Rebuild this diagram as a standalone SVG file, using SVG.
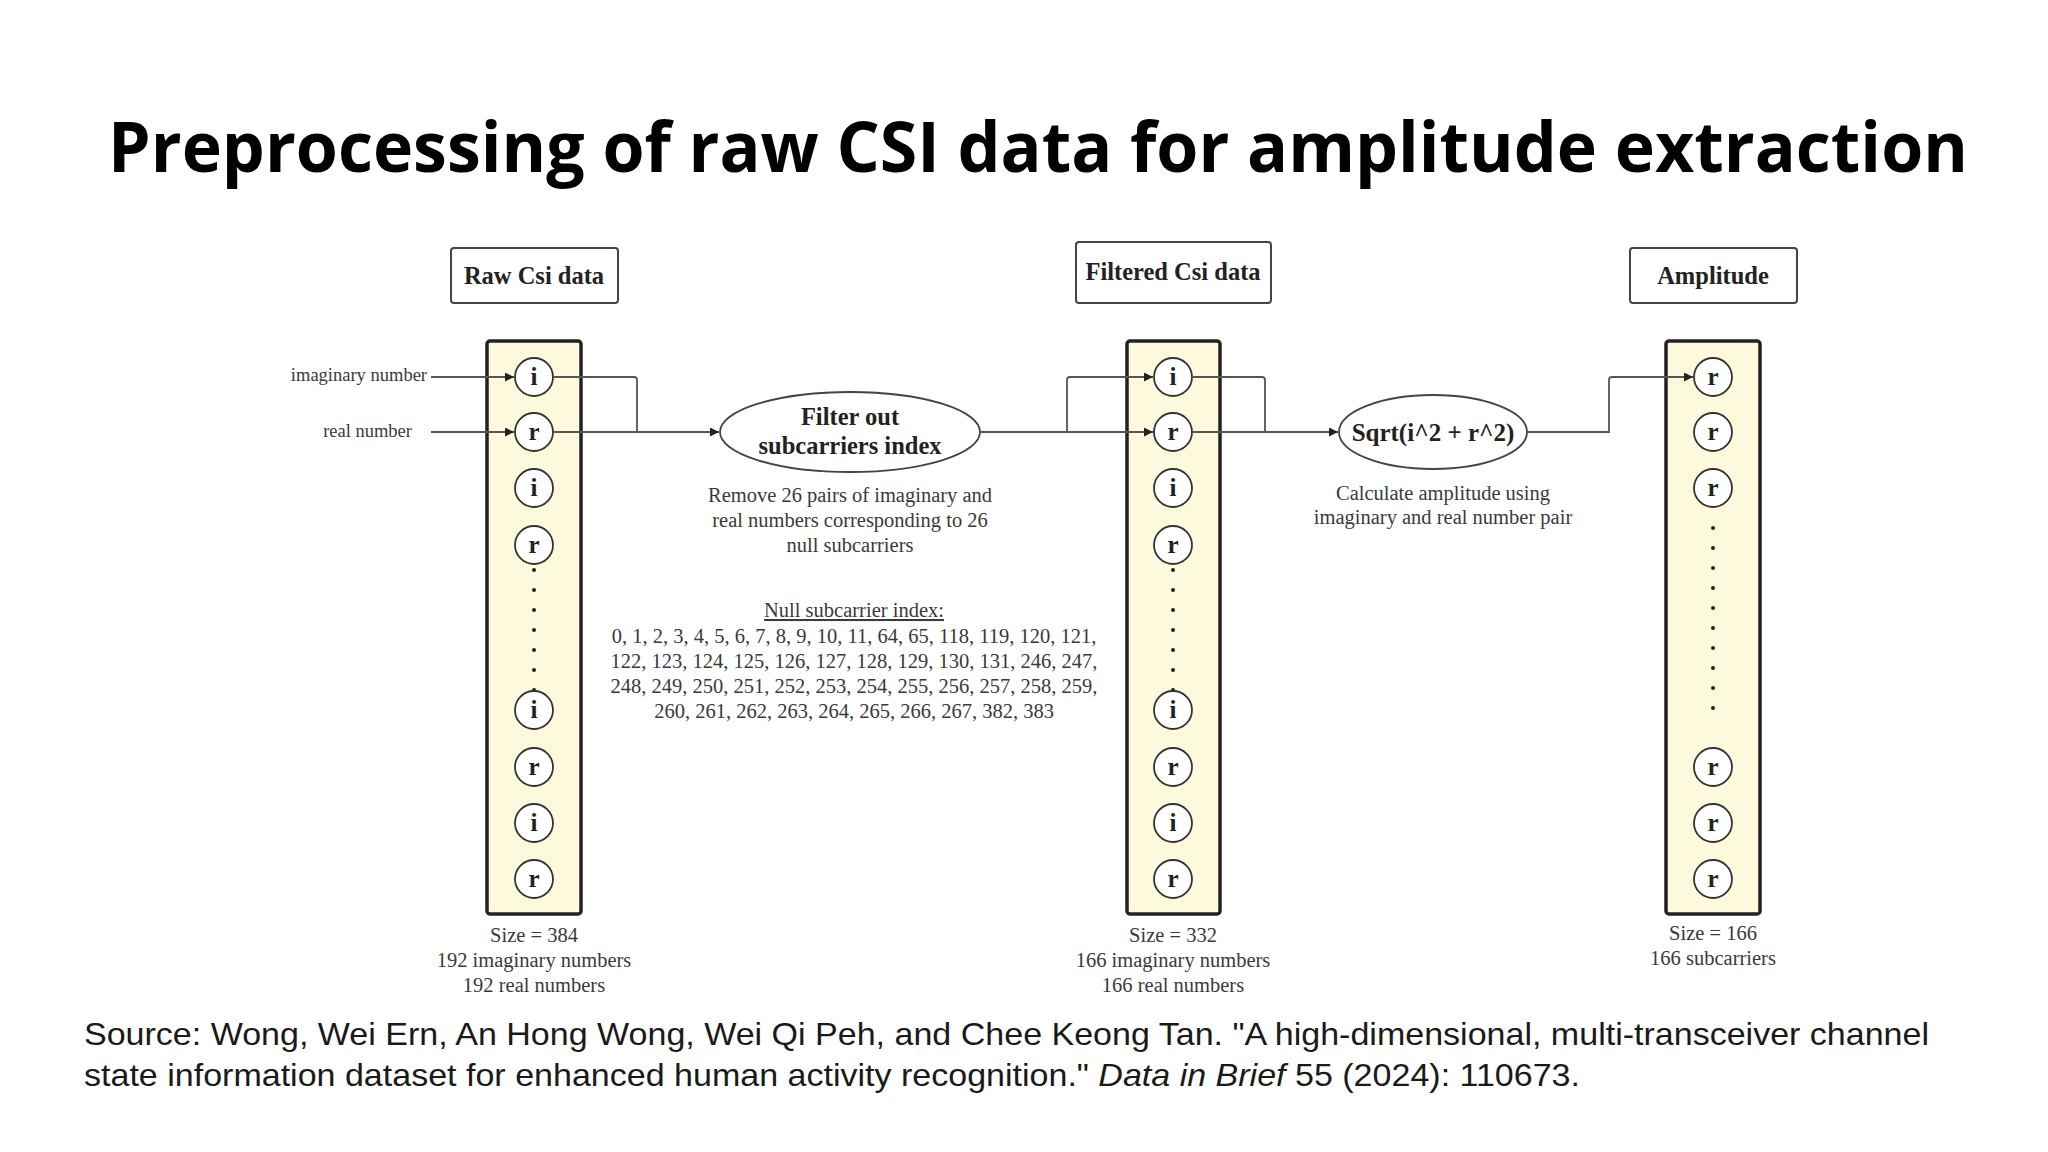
<svg xmlns="http://www.w3.org/2000/svg" width="2048" height="1152" viewBox="0 0 2048 1152">
<style>
.t{font-family:"Liberation Serif",serif;fill:#3a3a3a}
.b{font-family:"Liberation Serif",serif;font-weight:bold;fill:#222}
.lbl{fill:#fff;stroke:#444;stroke-width:2}
.col{fill:#fcf9dc;stroke:#222;stroke-width:3.5}
.c{fill:#fff;stroke:#333;stroke-width:1.8}
.ct{font-family:"Liberation Serif",serif;font-weight:bold;font-size:25px;fill:#222;text-anchor:middle}
.ln{fill:none;stroke:#555;stroke-width:1.8}
.dot{fill:#222}
</style>
<defs>
<marker id="ah" viewBox="0 0 10 10" refX="10" refY="5" markerWidth="9" markerHeight="9" markerUnits="userSpaceOnUse" orient="auto"><path d="M0,0L10,5L0,10z" fill="#222"/></marker>
<g id="ci"><circle class="c" r="19"/><text class="ct" y="8">i</text></g>
<g id="cr"><circle class="c" r="19"/><text class="ct" y="8">r</text></g>
</defs>
<rect width="2048" height="1152" fill="#fff"/>
<text x="1038" y="172" font-family="'Open Sans','Liberation Sans',sans-serif" font-weight="bold" font-size="70" text-anchor="middle" textLength="1860" lengthAdjust="spacingAndGlyphs" fill="#000">Preprocessing of raw CSI data for amplitude extraction</text>

<g id="raw">
<rect class="lbl" x="451" y="248" width="167" height="55" rx="3"/>
<text class="b" x="534" y="284" font-size="24.5" text-anchor="middle">Raw Csi data</text>
<rect class="col" x="487" y="341" width="94" height="573" rx="3"/>
<use href="#ci" x="534" y="377"/><use href="#cr" x="534" y="432"/><use href="#ci" x="534" y="488"/><use href="#cr" x="534" y="545"/>
<g class="dot"><circle cx="534" cy="570" r="2"/><circle cx="534" cy="590" r="2"/><circle cx="534" cy="610" r="2"/><circle cx="534" cy="630" r="2"/><circle cx="534" cy="650" r="2"/><circle cx="534" cy="670" r="2"/><circle cx="534" cy="690" r="2"/></g>
<use href="#ci" x="534" y="710"/><use href="#cr" x="534" y="767"/><use href="#ci" x="534" y="823"/><use href="#cr" x="534" y="879"/>
<text class="t" font-size="20.5" text-anchor="middle"><tspan x="534" y="942">Size = 384</tspan><tspan x="534" y="967">192 imaginary numbers</tspan><tspan x="534" y="992">192 real numbers</tspan></text>
</g>

<g id="filtered">
<rect class="lbl" x="1076" y="242" width="195" height="61" rx="3"/>
<text class="b" x="1173" y="280" font-size="24.5" text-anchor="middle">Filtered Csi data</text>
<rect class="col" x="1127" y="341" width="93" height="573" rx="3"/>
<use href="#ci" x="1173" y="377"/><use href="#cr" x="1173" y="432"/><use href="#ci" x="1173" y="488"/><use href="#cr" x="1173" y="545"/>
<g class="dot"><circle cx="1173" cy="570" r="2"/><circle cx="1173" cy="590" r="2"/><circle cx="1173" cy="610" r="2"/><circle cx="1173" cy="630" r="2"/><circle cx="1173" cy="650" r="2"/><circle cx="1173" cy="670" r="2"/><circle cx="1173" cy="690" r="2"/></g>
<use href="#ci" x="1173" y="710"/><use href="#cr" x="1173" y="767"/><use href="#ci" x="1173" y="823"/><use href="#cr" x="1173" y="879"/>
<text class="t" font-size="20.5" text-anchor="middle"><tspan x="1173" y="942">Size = 332</tspan><tspan x="1173" y="967">166 imaginary numbers</tspan><tspan x="1173" y="992">166 real numbers</tspan></text>
</g>

<g id="amplitude">
<rect class="lbl" x="1630" y="248" width="167" height="55" rx="3"/>
<text class="b" x="1713" y="284" font-size="24.5" text-anchor="middle">Amplitude</text>
<rect class="col" x="1666" y="341" width="94" height="573" rx="3"/>
<use href="#cr" x="1713" y="377"/><use href="#cr" x="1713" y="432"/><use href="#cr" x="1713" y="488"/>
<g class="dot"><circle cx="1713" cy="528" r="2"/><circle cx="1713" cy="548" r="2"/><circle cx="1713" cy="568" r="2"/><circle cx="1713" cy="588" r="2"/><circle cx="1713" cy="608" r="2"/><circle cx="1713" cy="628" r="2"/><circle cx="1713" cy="648" r="2"/><circle cx="1713" cy="668" r="2"/><circle cx="1713" cy="688" r="2"/><circle cx="1713" cy="708" r="2"/></g>
<use href="#cr" x="1713" y="767"/><use href="#cr" x="1713" y="823"/><use href="#cr" x="1713" y="879"/>
<text class="t" font-size="20.5" text-anchor="middle"><tspan x="1713" y="940">Size = 166</tspan><tspan x="1713" y="965">166 subcarriers</tspan></text>
</g>

<g id="filter">
<ellipse cx="850" cy="432" rx="130" ry="40" fill="#fff" stroke="#444" stroke-width="1.8"/>
<text class="b" font-size="24.5" text-anchor="middle"><tspan x="850" y="425">Filter out</tspan><tspan x="850" y="454">subcarriers index</tspan></text>
<text class="t" font-size="20.5" text-anchor="middle"><tspan x="850" y="502">Remove 26 pairs of imaginary and</tspan><tspan x="850" y="527">real numbers corresponding to 26</tspan><tspan x="850" y="552">null subcarriers</tspan></text>
<text class="t" font-size="20.5" text-anchor="middle" text-decoration="underline" x="854" y="617">Null subcarrier index:</text>
<text class="t" font-size="20.5" text-anchor="middle"><tspan x="854" y="643">0, 1, 2, 3, 4, 5, 6, 7, 8, 9, 10, 11, 64, 65, 118, 119, 120, 121,</tspan><tspan x="854" y="668">122, 123, 124, 125, 126, 127, 128, 129, 130, 131, 246, 247,</tspan><tspan x="854" y="693">248, 249, 250, 251, 252, 253, 254, 255, 256, 257, 258, 259,</tspan><tspan x="854" y="718">260, 261, 262, 263, 264, 265, 266, 267, 382, 383</tspan></text>
</g>

<g id="sqrt">
<ellipse cx="1433" cy="432" rx="94" ry="37" fill="#fff" stroke="#444" stroke-width="1.8"/>
<text class="b" x="1433" y="441" font-size="25" text-anchor="middle">Sqrt(i^2 + r^2)</text>
<text class="t" font-size="20.5" text-anchor="middle"><tspan x="1443" y="500">Calculate amplitude using</tspan><tspan x="1443" y="524">imaginary and real number pair</tspan></text>
</g>

<g id="inputs">
<text class="t" font-size="18.5" x="427" y="381" text-anchor="end">imaginary number</text>
<text class="t" font-size="18.5" x="412" y="437" text-anchor="end">real number</text>
</g>

<g id="connectors">
<path class="ln" d="M431,377H514" marker-end="url(#ah)"/>
<path class="ln" d="M431,432H514" marker-end="url(#ah)"/>
<path class="ln" d="M553,377H634Q637,377 637,380V432"/>
<path class="ln" d="M553,432H719" marker-end="url(#ah)"/>
<path class="ln" d="M980,432H1153" marker-end="url(#ah)"/>
<path class="ln" d="M1067,432V380Q1067,377 1070,377H1153" marker-end="url(#ah)"/>
<path class="ln" d="M1192,377H1262Q1265,377 1265,380V432"/>
<path class="ln" d="M1192,432H1338" marker-end="url(#ah)"/>
<path class="ln" d="M1527,432H1609V380Q1609,377 1612,377H1693" marker-end="url(#ah)"/>
</g>

<text font-family="'Liberation Sans',Arial,sans-serif" font-size="32" fill="#1a1a1a"><tspan x="84" y="1045" textLength="1845" lengthAdjust="spacingAndGlyphs">Source: Wong, Wei Ern, An Hong Wong, Wei Qi Peh, and Chee Keong Tan. "A high-dimensional, multi-transceiver channel</tspan><tspan x="84" y="1086" textLength="1496" lengthAdjust="spacingAndGlyphs">state information dataset for enhanced human activity recognition." <tspan font-style="italic">Data in Brief</tspan> 55 (2024): 110673.</tspan></text>
</svg>
